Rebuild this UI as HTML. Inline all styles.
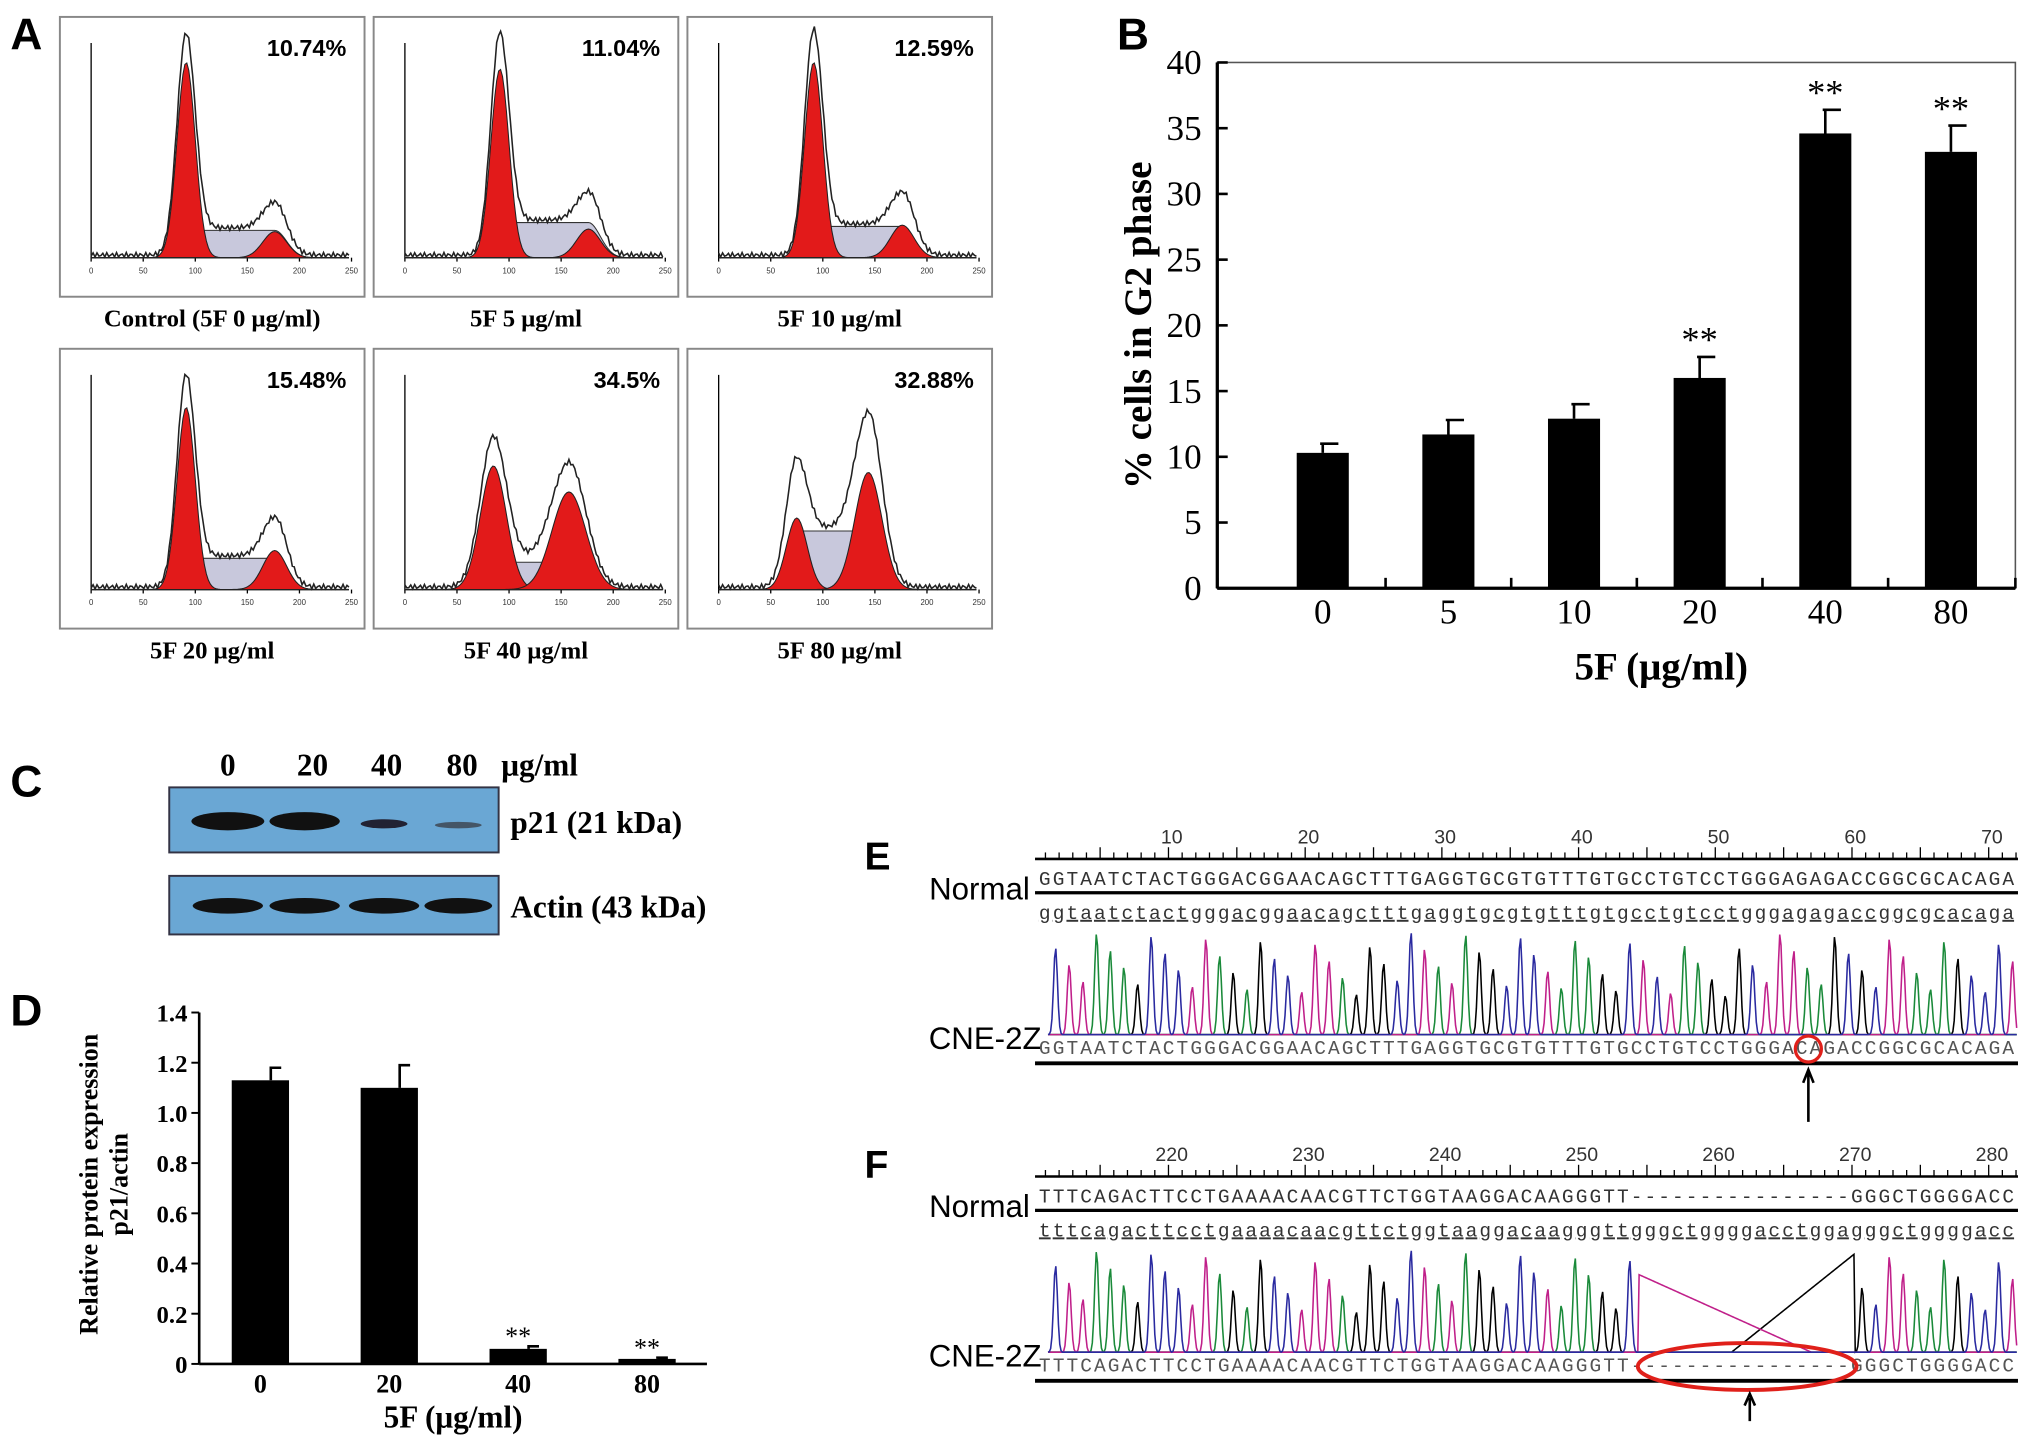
<!DOCTYPE html>
<html><head><meta charset="utf-8"><style>
html,body{margin:0;padding:0;background:#fff}
svg{display:block}
.ser{font-family:"Liberation Serif",serif}
.san{font-family:"Liberation Sans",sans-serif}
.mono{font-family:"Liberation Mono",monospace}
</style></head><body>
<svg id="fig" width="2031" height="1442" viewBox="0 0 1560 1108" preserveAspectRatio="none" xmlns="http://www.w3.org/2000/svg">
<rect width="1560" height="1108" fill="#fff"/>
<g id="panelA">
<text x="8" y="38" class="san" font-size="34" font-weight="bold">A</text>
</g>
<g id="panelB">
<text x="858" y="38" class="san" font-size="34" font-weight="bold">B</text>
</g>
<g id="panelC">
<text x="8" y="612" class="san" font-size="34" font-weight="bold">C</text>
<g class="ser" font-size="24" font-weight="bold">
<text x="175" y="596" text-anchor="middle">0</text>
<text x="240" y="596" text-anchor="middle">20</text>
<text x="297" y="596" text-anchor="middle">40</text>
<text x="355" y="596" text-anchor="middle">80</text>
<text x="385" y="596">μg/ml</text>
</g>
<rect x="130" y="605" width="253" height="50" fill="#6aa7d4" stroke="#334" stroke-width="1.5"/>
<rect x="130" y="673" width="253" height="45" fill="#6aa7d4" stroke="#334" stroke-width="1.5"/>
<ellipse cx="175" cy="631" rx="28" ry="7" fill="#111"/>
<ellipse cx="234" cy="631" rx="27" ry="7" fill="#111"/>
<ellipse cx="295" cy="633" rx="18" ry="3.5" fill="#223"/>
<ellipse cx="352" cy="634" rx="18" ry="2.5" fill="#456"/>
<ellipse cx="175" cy="696" rx="27" ry="6" fill="#111"/>
<ellipse cx="234" cy="696" rx="27" ry="6" fill="#111"/>
<ellipse cx="295" cy="696" rx="27" ry="6" fill="#111"/>
<ellipse cx="352" cy="696" rx="26" ry="6" fill="#111"/>
<text x="392" y="640" class="ser" font-size="24" font-weight="bold">p21 (21 kDa)</text>
<text x="392" y="705" class="ser" font-size="24" font-weight="bold">Actin (43 kDa)</text>
</g>
<g id="panelD">
<text x="8" y="788" class="san" font-size="34" font-weight="bold">D</text>
</g>
<g id="panelEF">
<text x="664" y="668" class="san" font-size="30" font-weight="bold">E</text>
<text x="664" y="905" class="san" font-size="30" font-weight="bold">F</text>
</g>
</svg>
<script>
var NS="http://www.w3.org/2000/svg";
function mk(parent,tag,attrs,txt){var e=document.createElementNS(NS,tag);for(var k in attrs)e.setAttribute(k,attrs[k]);if(txt!==undefined)e.textContent=txt;parent.appendChild(e);return e;}

/* ---------- Panel B data ---------- */
var bCategories=["0","5","10","20","40","80"];
var bValues=[10.3,11.7,12.9,16.0,34.6,33.2];
var bErrors=[0.7,1.1,1.1,1.6,1.8,2.0];
var bStars=["","","","**","**","**"];
var bTicks=[0,5,10,15,20,25,30,35,40];

/* ---------- Panel D data ---------- */
var dCategories=["0","20","40","80"];
var dValues=[1.13,1.10,0.06,0.02];
var dErrors=[0.05,0.09,0.01,0.005];
var dStars=["","","**","**"];
var dTicks=["0","0.2","0.4","0.6","0.8","1.0","1.2","1.4"];

/* ---------- Panel A data ---------- */
var aPercents=["10.74%","11.04%","12.59%","15.48%","34.5%","32.88%"];
var aCaptions=["Control (5F 0 μg/ml)","5F 5 μg/ml","5F 10 μg/ml","5F 20 μg/ml","5F 40 μg/ml","5F 80 μg/ml"];
var aG1=[150,145,150,140,95,55];
var aG2=[20,22,25,30,75,90];
var aS=[35,45,40,40,35,75];

(function(){
 var g=document.getElementById('panelB');
 var x0=935,x1=1548,yT=48,yB=452,max=40;
 function y(v){return yB-(v/max)*(yB-yT);}
 function x(i){return 1016+i*96.5;}
 var ax=mk(g,'rect',{x:x0,y:yT,width:x1-x0,height:yB-yT,fill:'none',stroke:'#555','stroke-width':1.2});
 
 
 var ya=mk(g,'line',{x1:x0,y1:yT,x2:x0,y2:yB,stroke:'#000','stroke-width':2.5});
 
 
 var xa=mk(g,'line',{x1:x0,y1:yB,x2:x1,y2:yB,stroke:'#000','stroke-width':2.5});
 
 
 bTicks.forEach(function(t){
  var tl=mk(g,'line',{x1:x0,y1:y(t),x2:x0+8,y2:y(t),stroke:'#000','stroke-width':2});
  
  
  var tx=mk(g,'text',{x:x0-12,y:y(t)+9,'text-anchor':'end','class':'ser','font-size':27},String(t));
  
  
 });
 for(var i=0;i<=6;i++){var xt=(i===0)?x0:(i===6?x1:x(i-1)+48.25);
  var t=mk(g,'line',{x1:xt,y1:yB,x2:xt,y2:yB-8,stroke:'#000','stroke-width':2});
  
  }
 bValues.forEach(function(v,i){
  var w=40,cx=x(i);
  var e=mk(g,'path',{d:'M'+cx+' '+y(v)+'V'+y(v+bErrors[i])+'M'+(cx-2)+' '+y(v+bErrors[i])+'H'+(cx+12),stroke:'#000','stroke-width':2,fill:'none'});
  
  
  var r=mk(g,'rect',{x:cx-w/2,y:y(v),width:w,height:yB-y(v),fill:'#000'});
  
  
  var l=mk(g,'text',{x:cx,y:yB+27,'text-anchor':'middle','class':'ser','font-size':27},bCategories[i]);
  
  
  if(bStars[i]){var s=mk(g,'text',{x:cx,y:y(v+bErrors[i])-4,'text-anchor':'middle','class':'ser','font-size':28},bStars[i]);
   
   }
 });
 var yt=mk(g,'text',{x:0,y:0,transform:'translate(884,250) rotate(-90)','text-anchor':'middle','class':'ser','font-size':30,'font-weight':'bold'},'% cells in G2 phase');
 
 
 var xtt=mk(g,'text',{x:1276,y:522,'text-anchor':'middle','class':'ser','font-size':30,'font-weight':'bold'},'5F (μg/ml)');
 
 
})();

(function(){
 var g=document.getElementById('panelD');
 var x0=153,x1=543,yT=778,yB=1048,max=1.4;
 function y(v){return yB-(v/max)*(yB-yT);}
 function x(i){return 200+i*99;}
 var ya=mk(g,'line',{x1:x0,y1:yT,x2:x0,y2:yB,stroke:'#000','stroke-width':2});
 
 
 var xa=mk(g,'line',{x1:x0,y1:yB,x2:x1,y2:yB,stroke:'#000','stroke-width':2});
 
 
 dTicks.forEach(function(t){var v=parseFloat(t);
  var tl=mk(g,'line',{x1:x0-6,y1:y(v),x2:x0,y2:y(v),stroke:'#000','stroke-width':1.5});
  
  
  var tx=mk(g,'text',{x:x0-9,y:y(v)+7,'text-anchor':'end','class':'ser','font-size':19,'font-weight':'bold'},t);
  
  
 });
 dValues.forEach(function(v,i){
  var w=44,cx=x(i);
  var e=mk(g,'path',{d:'M'+(cx+8)+' '+y(v)+'V'+y(v+dErrors[i])+'H'+(cx+16),stroke:'#000','stroke-width':2,fill:'none'});
  
  
  var r=mk(g,'rect',{x:cx-w/2,y:y(v),width:w,height:yB-y(v),fill:'#000'});
  
  
  var l=mk(g,'text',{x:cx,y:yB+22,'text-anchor':'middle','class':'ser','font-size':20,'font-weight':'bold'},dCategories[i]);
  
  
  if(dStars[i]){var s=mk(g,'text',{x:cx,y:y(v+dErrors[i])-1,'text-anchor':'middle','class':'ser','font-size':20},dStars[i]);
   
   }
 });
 var t1=mk(g,'text',{x:0,y:0,transform:'translate(75,910) rotate(-90)','text-anchor':'middle','class':'ser','font-size':20,'font-weight':'bold'},'Relative protein expression');
 
 
 var t2=mk(g,'text',{x:0,y:0,transform:'translate(98,910) rotate(-90)','text-anchor':'middle','class':'ser','font-size':20,'font-weight':'bold'},'p21/actin');
 
 
 var xt=mk(g,'text',{x:348,y:1097,'text-anchor':'middle','class':'ser','font-size':24,'font-weight':'bold'},'5F (μg/ml)');
 
 
})();

(function(){
 var g=document.getElementById('panelA');
 var bx=[46,287,528], by=[13,268];
 function gauss(x,m,s){return Math.exp(-(x-m)*(x-m)/(2*s*s));}
 for(var k=0;k<6;k++){
  var X=bx[k%3],Y=by[Math.floor(k/3)];
  var b=mk(g,'rect',{x:X,y:Y,width:234,height:215,fill:'#fff',stroke:'#888','stroke-width':1.5});
  
  
  var ax0=X+24,ax1=X+222,base=Y+185,top=Y+20;
  var ya=mk(g,'path',{d:'M'+ax0+' '+top+'V'+base+'H'+ax1,stroke:'#000','stroke-width':1,fill:'none'});
  
  
  for(var q=0;q<6;q++){var tx=ax0+q*40;mk(g,'line',{x1:tx,y1:base,x2:tx,y2:base+3,stroke:'#000','stroke-width':1});
   var tl=mk(g,'text',{x:tx,y:base+12,'text-anchor':'middle','class':'san','font-size':6,fill:'#333'},String(q*50));
   
   }
  var g1=ax0+(k<4?73:(k===4?68:60)), g2=g1+(k<4?68:(k===4?58:55)), sw=(k<4?7:(k===4?10:8));
  var hG1=aG1[k],hG2=aG2[k],hS=aS[k];
  var pG1='',pG2='',pS='',pTot='';
  for(var px=ax0;px<=ax1;px+=1.5){
   var a=hG1*gauss(px,g1,sw), c=hG2*gauss(px,g2,sw*1.3), s=(px>g1&&px<g2)?hS*0.6:hS*0.6*Math.max(gauss(px,g1,sw),gauss(px,g2,sw*1.3));
   var tot=a+c+s+ (Math.sin(px*1.7)*2)+2;
   pG1+=(pG1?'L':'M')+px+' '+(base-a);
   pG2+=(pG2?'L':'M')+px+' '+(base-c);
   pS+=(pS?'L':'M')+px+' '+(base-s);
   pTot+=(pTot?'L':'M')+px+' '+(base-Math.max(tot,0.5));
  }
  var ps=mk(g,'path',{d:pS+'L'+ax1+' '+base+'L'+ax0+' '+base+'Z',fill:'#c8c8dc',stroke:'#333','stroke-width':0.8});
  
  
  var p1=mk(g,'path',{d:pG1+'L'+ax1+' '+base+'L'+ax0+' '+base+'Z',fill:'#e21a1a',stroke:'#222','stroke-width':0.8});
  
  
  var p2=mk(g,'path',{d:pG2+'L'+ax1+' '+base+'L'+ax0+' '+base+'Z',fill:'#e21a1a',stroke:'#222','stroke-width':0.8});
  
  
  var pt=mk(g,'path',{d:pTot,fill:'none',stroke:'#222','stroke-width':1.2});
  
  
  var pc=mk(g,'text',{x:X+220,y:Y+30,'text-anchor':'end','class':'san','font-size':18,'font-weight':'bold'},aPercents[k]);
  
  
  var cap=mk(g,'text',{x:X+117,y:Y+238,'text-anchor':'middle','class':'ser','font-size':19,'font-weight':'bold'},aCaptions[k]);
  
  
 }
})();

(function(){
 var g=document.getElementById('panelEF');
 var L=795,R=1550;
 function seqBlock(y0,nums,normal,lower,cne,del){
  var r=mk(g,'line',{x1:L,y1:y0,x2:R,y2:y0,stroke:'#000','stroke-width':2});
  
  
  for(var i=0;i<72;i++){var tx=L+8+i*10.5;var t=mk(g,'line',{x1:tx,y1:y0,x2:tx,y2:y0-(i%5===4?9:5),stroke:'#000','stroke-width':1});
   
   }
  nums.forEach(function(n,i){var t=mk(g,'text',{x:L+105+i*105,y:y0-12,'text-anchor':'middle','class':'san','font-size':15,fill:'#333'},n);
   
   });
  var nl=mk(g,'text',{x:L-4,y:y0+31,'text-anchor':'end','class':'san','font-size':24},'Normal');
  
  
  var s1=mk(g,'text',{x:L+3,y:y0+20,'class':'mono','font-size':15,textLength:R-L-6,fill:'#333'},normal);
  
  
  mk(g,'line',{x1:L,y1:y0+26,x2:R,y2:y0+26,stroke:'#000','stroke-width':2.5});
  var s2=mk(g,'text',{x:L+3,y:y0+46,'class':'mono','font-size':15,textLength:R-L-6,fill:'#333','text-decoration':'underline'},lower);
  
  
  var cl=mk(g,'text',{x:L+5,y:y0+146,'text-anchor':'end','class':'san','font-size':24},'CNE-2Z');
  
  
  var s3=mk(g,'text',{x:L+3,y:y0+150,'class':'mono','font-size':15,textLength:R-L-6,fill:'#555'},cne);
  
  
  mk(g,'line',{x1:L,y1:y0+157,x2:R,y2:y0+157,stroke:'#000','stroke-width':3});
  var cols=['#000','#1a8a3a','#c0208a','#2a2aa0'];
  var base=y0+135;
  for(var c=0;c<4;c++){
   var d='';
   for(var px=L+10;px<R;px+=1){
    var ph=(px-L)/10.5;var idx=Math.floor(ph);var frac=ph-idx;
    var h=0;
    if(((idx*7+Math.floor(idx/3)+Math.floor(idx/5))%4)===c){var amp=30+((idx*37)%50);h=amp*Math.exp(-Math.pow((frac-0.5)/0.2,2));}
    if(del&&px>1258&&px<1425)h=(c===2?Math.max(0,60-(px-1258)*0.45):(c===0?Math.max(0,(px-1330)*0.8):0));
    d+=(d?'L':'M')+px+' '+(base-h);
   }
   var p=mk(g,'path',{d:d,fill:'none',stroke:cols[c],'stroke-width':1.2});
   
   
  }
 }
 seqBlock(660,['10','20','30','40','50','60','70'],
  'GGTAATCTACTGGGACGGAACAGCTTTGAGGTGCGTGTTTGTGCCTGTCCTGGGAGAGACCGGCGCACAGA',
  'ggtaatctactgggacggaacagctttgaggtgcgtgtttgtgcctgtcctgggagagaccggcgcacaga',
  'GGTAATCTACTGGGACGGAACAGCTTTGAGGTGCGTGTTTGTGCCTGTCCTGGGACAGACCGGCGCACAGA',false);
 var c1=mk(g,'circle',{cx:1389,cy:806,r:10,fill:'none',stroke:'#e0201a','stroke-width':2.5});
 
 
 mk(g,'path',{d:'M1389 862V824M1385 832L1389 822L1393 832',stroke:'#000','stroke-width':2,fill:'none'});
 seqBlock(904,['220','230','240','250','260','270','280'],
  'TTTCAGACTTCCTGAAAACAACGTTCTGGTAAGGACAAGGGTT----------------GGGCTGGGGACC',
  'tttcagacttcctgaaaacaacgttctggtaaggacaagggttgggctggggacctggagggctggggacc',
  'TTTCAGACTTCCTGAAAACAACGTTCTGGTAAGGACAAGGGTT----------------GGGCTGGGGACC',true);
 var c2=mk(g,'ellipse',{cx:1342,cy:1050,rx:84,ry:18,fill:'none',stroke:'#e0201a','stroke-width':3});
 
 
 mk(g,'path',{d:'M1344 1092V1074M1340 1080L1344 1071L1348 1080',stroke:'#000','stroke-width':2,fill:'none'});
})();
</script>
</body></html>
